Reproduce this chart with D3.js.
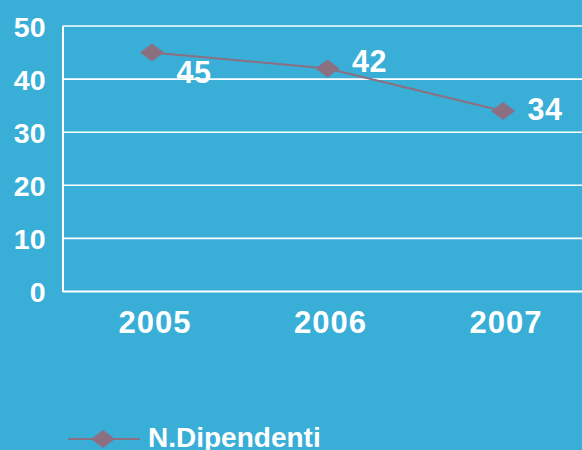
<!DOCTYPE html>
<html>
<head>
<meta charset="utf-8">
<script src="https://cdn.jsdelivr.net/npm/d3@7/dist/d3.min.js"></script>
<style>
  html, body { margin: 0; padding: 0; background: #39AED6; }
  svg { display: block; }
  text { font-family: "Liberation Sans", Arial, sans-serif; font-weight: bold; fill: #ffffff; }
</style>
</head>
<body>
<script>
const categories = ["2005", "2006", "2007"];
const values = [45, 42, 34];
const yTicks = [0, 10, 20, 30, 40, 50];
const seriesName = "N.Dipendenti";

const W = 582, H = 450;
const bg = "#39AED6", lineColor = "#8C6F80";
const labelDy = [30, 4, 9];

const svg = d3.select("body").append("svg").attr("width", W).attr("height", H);
svg.append("rect").attr("width", W).attr("height", H).attr("fill", bg);

const x = d3.scaleBand().domain(categories).range([64.25, 590.75]);
const y = d3.scaleLinear().domain([0, 50]).range([291.5, 26]);

// gridlines
svg.append("g").selectAll("line").data(yTicks.filter(d => d > 0)).join("line")
  .attr("x1", 62.5).attr("x2", W)
  .attr("y1", d => y(d)).attr("y2", d => y(d))
  .attr("stroke", "#ffffff").attr("stroke-width", 1.6);

// y axis
const yAxis = d3.axisLeft(y).tickValues(yTicks).tickSize(0).tickPadding(17);
const gy = svg.append("g").attr("transform", "translate(62.5,0)").call(yAxis);
gy.select(".domain").attr("stroke", "#ffffff").attr("stroke-width", 2);
gy.selectAll("text").attr("font-size", 28.5).attr("fill", "#fff")
  .attr("font-family", "Liberation Sans, Arial, sans-serif").attr("font-weight", "bold")
  .attr("dy", "0.36em");

// x axis
const xAxis = d3.axisBottom(x).tickSize(0).tickPadding(19);
const gx = svg.append("g").attr("transform", "translate(0,291.5)").call(xAxis);
gx.select(".domain").attr("stroke", "#ffffff").attr("stroke-width", 2)
  .attr("d", `M62.5,0H${W}`);
gx.selectAll("text").attr("font-size", 31).attr("fill", "#fff")
  .attr("font-family", "Liberation Sans, Arial, sans-serif").attr("font-weight", "bold")
  .attr("letter-spacing", 1)
  .attr("dx", 3)
  .attr("dy", "0.71em");

const cx = d => x(d) + x.bandwidth() / 2;
const data = categories.map((c, i) => ({c, v: values[i], i}));

// line
svg.append("path").datum(data)
  .attr("d", d3.line().x(d => cx(d.c)).y(d => y(d.v)))
  .attr("fill", "none").attr("stroke", lineColor).attr("stroke-width", 2);

// diamonds
const diamond = "M-12,0L0,-9L12,0L0,9Z";
svg.append("g").selectAll("path").data(data).join("path")
  .attr("d", diamond)
  .attr("transform", d => `translate(${cx(d.c)},${y(d.v)})`)
  .attr("fill", lineColor);

// data labels
svg.append("g").selectAll("text").data(data).join("text")
  .attr("x", d => cx(d.c) + 42)
  .attr("y", d => y(d.v) + labelDy[d.i])
  .attr("text-anchor", "middle")
  .attr("font-size", 30.5)
  .attr("letter-spacing", 0.5)
  .text(d => d.v);

// legend
const lg = svg.append("g").attr("transform", "translate(0,439)");
lg.append("line").attr("x1", 68).attr("x2", 140).attr("y1", 0).attr("y2", 0)
  .attr("stroke", lineColor).attr("stroke-width", 2);
lg.append("path").attr("d", diamond).attr("transform", "translate(103,0)").attr("fill", lineColor);
lg.append("text").attr("x", 148).attr("y", 8).attr("font-size", 28).text(seriesName);
</script>
</body>
</html>
